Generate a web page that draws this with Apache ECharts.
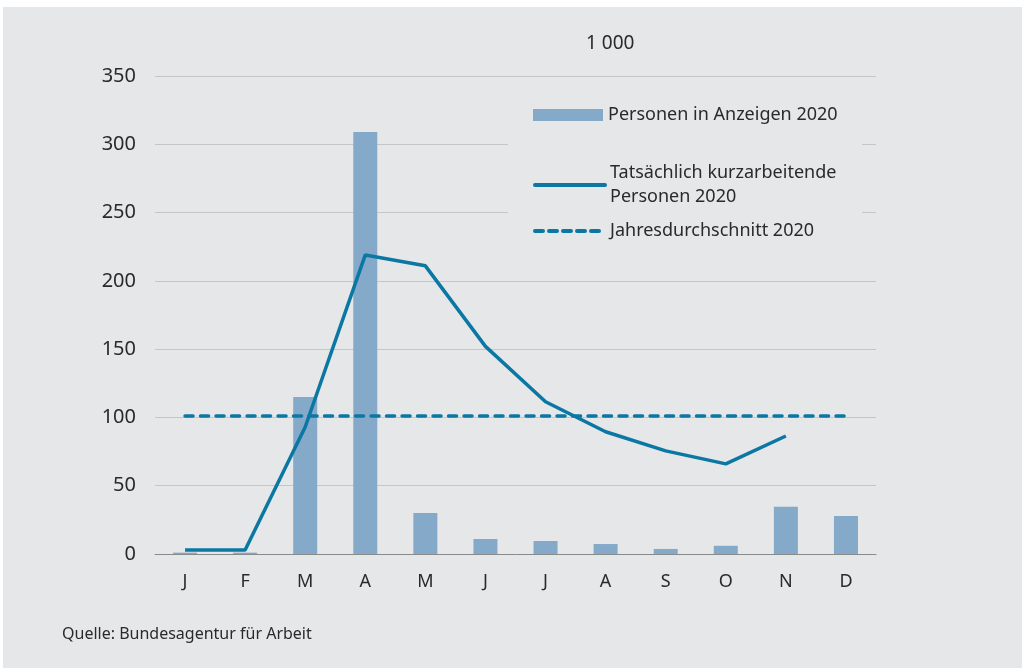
<!DOCTYPE html>
<html lang="de">
<head>
<meta charset="utf-8">
<script src="https://cdn.jsdelivr.net/npm/echarts@6/dist/echarts.min.js"></script>
</head>
<body style="margin:0;background:#ffffff">
<div id="container" style="position:absolute;left:3px;top:7px;width:1019px;height:661px;background:#e6e7e9"></div>
<script>
  // Werte in 1 000
  var months = ['J', 'F', 'M', 'A', 'M', 'J', 'J', 'A', 'S', 'O', 'N', 'D'];
  var anzeigen = [1, 1, 115, 309, 30, 11, 9.5, 7.3, 3.7, 6, 34.6, 27.8];
  var kurzarbeit = [3, 3, 93, 219, 211, 152, 111.5, 89.5, 75.5, 66, 86.4, null];
  var durchschnitt = [101, 101, 101, 101, 101, 101, 101, 101, 101, 101, 101, 101];

  var font = 'Noto Sans';
  var txt = '#2a2a2a';
  var blue = '#0b77a3';

  var chart = echarts.init(document.getElementById('container'), null, { renderer: 'canvas' });

  var legendText = { color: txt, fontSize: 18, fontFamily: font, lineHeight: 24 };
  var noSymbol = { opacity: 0 };

  var option = {
    animation: false,
    textStyle: { fontFamily: font },
    title: {
      text: '1 000',
      left: 578,
      top: 22,
      textStyle: { color: txt, fontSize: 19, fontWeight: 'normal', fontFamily: font }
    },
    grid: { left: 152, right: 146, top: 69, bottom: 114 },
    legend: [
      {
        data: [{ name: 'Personen in Anzeigen 2020', icon: 'rect' }],
        left: 530, top: 96, padding: 0, itemWidth: 70, itemHeight: 12, itemGap: 0,
        textStyle: legendText
      },
      {
        data: ['Tatsächlich kurzarbeitende\nPersonen 2020'],
        left: 530, top: 142, padding: 0, itemWidth: 70, itemHeight: 12, itemGap: 0,
        itemStyle: noSymbol,
        lineStyle: { width: 4, cap: 'round' },
        textStyle: Object.assign({}, legendText, { padding: [24, 0, 0, 0] })
      },
      {
        data: ['Jahresdurchschnitt 2020'],
        left: 530, top: 212, padding: 0, itemWidth: 70, itemHeight: 12, itemGap: 0,
        itemStyle: noSymbol,
        lineStyle: { width: 4, type: [8, 6], cap: 'round' },
        textStyle: legendText
      }
    ],
    graphic: [
      {
        type: 'rect', z: 1,
        shape: { x: 505, y: 88, width: 354, height: 150 },
        style: { fill: '#e6e7e9' }
      },
      {
        type: 'text', left: 59, top: 619,
        style: { text: 'Quelle: Bundesagentur für Arbeit', fill: txt, fontSize: 16, fontFamily: font }
      }
    ],
    xAxis: {
      type: 'category',
      data: months,
      axisLine: { lineStyle: { color: '#8a8a8a', width: 1 } },
      axisTick: { show: false },
      axisLabel: { color: txt, fontSize: 18, margin: 19, fontFamily: font }
    },
    yAxis: {
      type: 'value',
      min: 0, max: 350, interval: 50,
      axisLine: { show: false },
      axisTick: { show: false },
      axisLabel: { color: txt, fontSize: 20, margin: 19, fontFamily: font },
      splitLine: { lineStyle: { color: '#c4c5c7', width: 1 } }
    },
    series: [
      {
        name: 'Personen in Anzeigen 2020',
        type: 'bar',
        data: anzeigen,
        barWidth: 24,
        z: 2,
        itemStyle: { color: '#84a9c9' }
      },
      {
        name: 'Tatsächlich kurzarbeitende\nPersonen 2020',
        type: 'line',
        data: kurzarbeit,
        symbol: 'none',
        z: 4,
        lineStyle: { color: blue, width: 3.5 },
        itemStyle: { color: blue }
      },
      {
        name: 'Jahresdurchschnitt 2020',
        type: 'line',
        data: durchschnitt,
        symbol: 'none',
        z: 3,
        lineStyle: { color: blue, width: 3.5, type: [8, 7.5], cap: 'round' },
        itemStyle: { color: blue }
      }
    ]
  };

  chart.setOption(option);
  window.addEventListener('resize', chart.resize);
</script>
</body>
</html>
